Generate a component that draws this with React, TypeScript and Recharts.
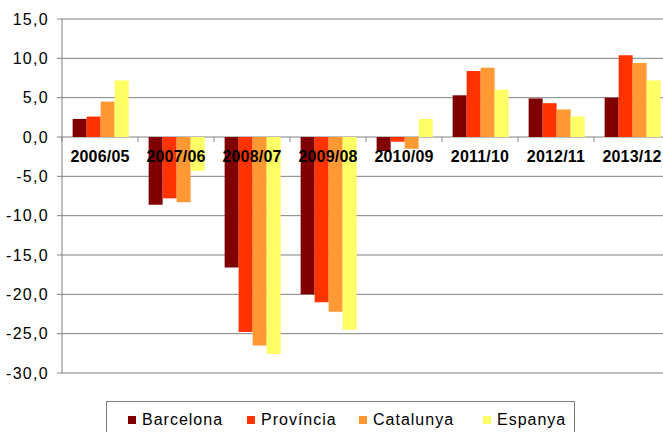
import React from 'react';
import { BarChart, Bar, XAxis, YAxis, CartesianGrid } from 'recharts';

// Data
const periods = ['2006/05', '2007/06', '2008/07', '2009/08', '2010/09', '2011/10', '2012/11', '2013/12'];
const barcelona = [2.3, -8.6, -16.6, -20.0, -1.8, 5.3, 4.9, 5.0];
const provincia = [2.6, -7.8, -24.8, -21.0, -0.6, 8.4, 4.3, 10.4];
const catalunya = [4.5, -8.3, -26.5, -22.2, -1.5, 8.8, 3.5, 9.4];
const espanya = [7.2, -4.3, -27.6, -24.5, 2.3, 6.0, 2.6, 7.2];
const yTicks = [-30, -25, -20, -15, -10, -5, 0, 5, 10, 15];

const series = [
  { key: 'Barcelona', values: barcelona, color: '#800000' },
  { key: 'Província', values: provincia, color: '#ff3300' },
  { key: 'Catalunya', values: catalunya, color: '#ff9933' },
  { key: 'Espanya', values: espanya, color: '#ffff66' },
];

const data = periods.map((period, i) => {
  const row: Record<string, string | number> = { period };
  series.forEach(s => { row[s.key] = s.values[i]; });
  return row;
});

const CHART_W = 680;
const CHART_H = 432;
const MARGIN = { top: 19, right: 10, bottom: 58, left: 0 };
const Y_AXIS_W = 62;
const X_AXIS_H = 1;
const Y_MIN = -30;
const Y_MAX = 15;
const FONT = "Arial, 'Liberation Sans', sans-serif";

const plotH = CHART_H - MARGIN.top - MARGIN.bottom - X_AXIS_H;
const plotW = CHART_W - MARGIN.left - MARGIN.right - Y_AXIS_W;
const zeroY = MARGIN.top + (Y_MAX / (Y_MAX - Y_MIN)) * plotH;
const band = plotW / periods.length;

const fmt = (v: number) => v.toFixed(1).replace('.', ',');

// category labels sit just under the zero line, with small boundary ticks
const PeriodTick = (props: any) => {
  const { x, payload, index } = props;
  const left = x - band / 2;
  return (
    <g>
      <line x1={left} y1={zeroY} x2={left} y2={zeroY + 5} stroke="#808080" />
      {index === periods.length - 1 && (
        <line x1={left + band} y1={zeroY} x2={left + band} y2={zeroY + 5} stroke="#808080" />
      )}
      <text
        x={x}
        y={zeroY + 25}
        textAnchor="middle"
        fontSize={16}
        fontWeight="bold"
        fill="#000"
        fontFamily={FONT}
        letterSpacing={0.2}
      >
        {payload.value}
      </text>
    </g>
  );
};

const legendWidths = [119, 112, 124, 90];

export default function App() {
  return (
    <div style={{ position: 'absolute', left: 0, top: 0, width: 663, height: 432, overflow: 'hidden', background: '#fff' }}>
      <BarChart
        width={CHART_W}
        height={CHART_H}
        data={data}
        margin={MARGIN}
        barCategoryGap="14%"
        barGap={0}
      >
        <CartesianGrid vertical={false} stroke="#808080" strokeWidth={1} />
        <XAxis
          dataKey="period"
          height={X_AXIS_H}
          axisLine={false}
          tickLine={false}
          tick={<PeriodTick />}
          interval={0}
        />
        <YAxis
          width={Y_AXIS_W}
          domain={[Y_MIN, Y_MAX]}
          ticks={yTicks}
          interval={0}
          tickFormatter={fmt}
          axisLine={{ stroke: '#808080' }}
          tickLine={{ stroke: '#808080' }}
          tickSize={5}
          tickMargin={8}
          tick={{ fontSize: 16, fill: '#000', fontFamily: FONT, letterSpacing: 1.3 }}
        />
        {series.map(s => (
          <Bar key={s.key} dataKey={s.key} fill={s.color} isAnimationActive={false} />
        ))}
      </BarChart>
      <div
        style={{
          position: 'absolute',
          left: 106,
          top: 401,
          width: 469,
          height: 40,
          border: '1px solid #808080',
          display: 'flex',
          paddingLeft: 21,
          boxSizing: 'border-box',
          fontFamily: FONT,
          fontSize: 16,
          color: '#000',
        }}
      >
        {series.map((s, i) => (
          <div key={s.key} style={{ width: legendWidths[i], display: 'flex', alignItems: 'center', height: 34, marginTop: 1 }}>
            <span style={{ display: 'inline-block', width: 8, height: 8, background: s.color, marginRight: 6 }} />
            <span style={{ letterSpacing: 1 }}>{s.key}</span>
          </div>
        ))}
      </div>
    </div>
  );
}
